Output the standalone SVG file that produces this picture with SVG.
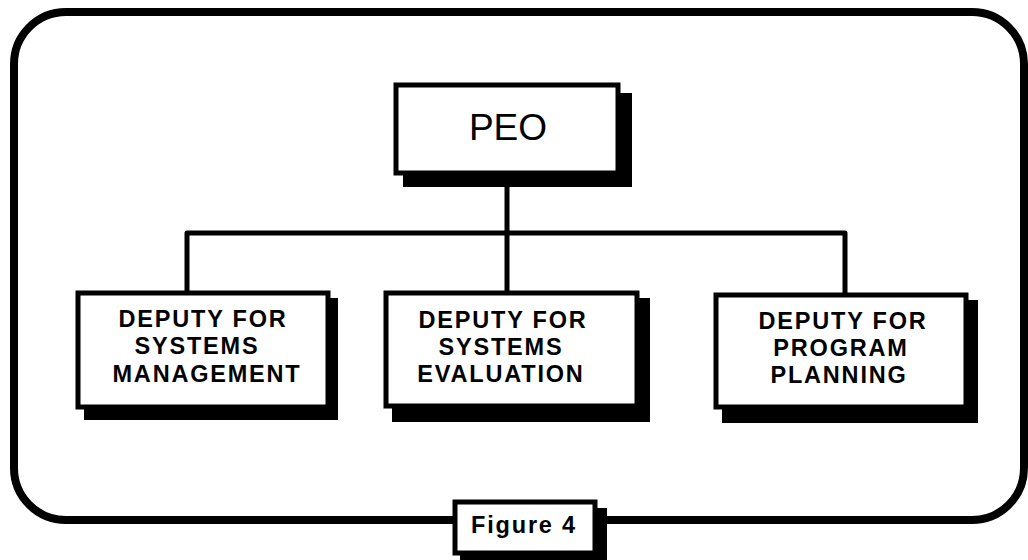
<svg xmlns="http://www.w3.org/2000/svg" width="1028" height="560" viewBox="0 0 1028 560">
  <style>
    .frame { fill: none; stroke: #000; stroke-width: 8; }
    .shadow { fill: #000; }
    .box { fill: #fff; stroke: #000; stroke-width: 5; }
    .conn { fill: none; stroke: #000; stroke-width: 5; stroke-linejoin: round; }
    .lbl { font-family: "Liberation Sans", Arial, sans-serif; font-weight: bold; font-size: 23.5px; letter-spacing: 1.8px; fill: #000; text-anchor: middle; }
    .peo { font-family: "Liberation Sans", Arial, sans-serif; font-size: 37px; fill: #000; text-anchor: middle; }
  </style>
  <rect width="1028" height="560" fill="#fff"/>
  <rect class="frame" x="14" y="12" width="1010" height="508" rx="52" ry="52"/>

  <g id="connectors">
    <path class="conn" d="M507,174 V293"/>
    <path class="conn" d="M187,293 V233 H845 V295"/>
  </g>

  <g id="peo">
    <rect class="shadow" x="403" y="93" width="229" height="94"/>
    <rect class="box" x="396" y="85" width="222" height="88"/>
    <text class="peo" x="508" y="140">PEO</text>
  </g>

  <g id="deputy-systems-management">
    <rect class="shadow" x="84" y="298" width="254" height="122"/>
    <rect class="box" x="78" y="293" width="250" height="114"/>
    <text class="lbl" x="203" y="327">DEPUTY FOR</text>
    <text class="lbl" x="197" y="354">SYSTEMS</text>
    <text class="lbl" x="207" y="382">MANAGEMENT</text>
  </g>

  <g id="deputy-systems-evaluation">
    <rect class="shadow" x="392" y="298" width="258" height="124"/>
    <rect class="box" x="386" y="293" width="251" height="113"/>
    <text class="lbl" x="503" y="328">DEPUTY FOR</text>
    <text class="lbl" x="501" y="355">SYSTEMS</text>
    <text class="lbl" x="501" y="382" letter-spacing="2.2">EVALUATION</text>
  </g>

  <g id="deputy-program-planning">
    <rect class="shadow" x="722" y="300" width="256" height="123"/>
    <rect class="box" x="716" y="295" width="250" height="112"/>
    <text class="lbl" x="843" y="329">DEPUTY FOR</text>
    <text class="lbl" x="841" y="356">PROGRAM</text>
    <text class="lbl" x="839" y="383">PLANNING</text>
  </g>

  <g id="figure-caption">
    <rect class="shadow" x="460" y="508" width="147" height="55"/>
    <rect class="box" x="455" y="502" width="140" height="51" stroke-width="6"/>
    <text class="lbl" x="524" y="533" font-size="25" letter-spacing="1.2">Figure 4</text>
  </g>
</svg>
